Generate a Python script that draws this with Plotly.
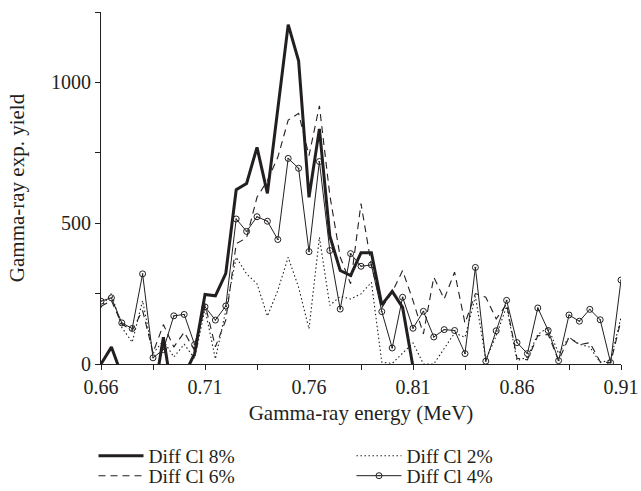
import plotly.graph_objects as go

energy = [0.660, 0.665, 0.670, 0.675, 0.680, 0.685, 0.690, 0.695, 0.700, 0.705,
          0.710, 0.715, 0.720, 0.725, 0.730, 0.735, 0.740, 0.745, 0.750, 0.755,
          0.760, 0.765, 0.770, 0.775, 0.780, 0.785, 0.790, 0.795, 0.800, 0.805,
          0.810, 0.815, 0.820, 0.825, 0.830, 0.835, 0.840, 0.845, 0.850, 0.855,
          0.860, 0.865, 0.870, 0.875, 0.880, 0.885, 0.890, 0.895, 0.900, 0.905,
          0.910]

cl8 = [0, 60, -40, -120, -90, -130, 95, -140, -40, 37,
       247, 242, 322, 619, 641, 769, 606, 900, 1205, 1077,
       592, 835, 455, 332, 314, 395, 395, 210, 258, 201,
       -10, -80, -120, -60, -150, -90, -40, -110, -70, -130,
       -160, -100, -60, -140, -90, -50, -120, -80, -110, -70,
       -100]

cl6 = [205, 225, 142, 119, 190, 40, 140, 60, 113, 48,
       213, 61, 156, 427, 448, 592, 651, 734, 866, 890,
       740, 917, 600, 380, 285, 570, 350, 200, 255, 332,
       225, 107, 308, 231, 326, 145, 250, 237, 160, 213,
       20, 15, 100, 105, 12, 95, 68, 76, 8, 4,
       155]

cl2 = [201, 250, 130, 77, 225, 37, 83, 25, 70, 20,
       195, 18, 190, 379, 320, 285, 170, 261, 379, 272,
       125, 450, 208, 240, 231, 249, 290, 6, 2, 37,
       75, 0, 0, 55, 110, 95, 240, 15, 100, 205,
       12, 24, 105, 130, 37, 95, 70, 60, 5, 15,
       165]

cl4 = [223, 235, 146, 126, 320, 22, 51, 171, 176, 69,
       203, 156, 206, 515, 471, 523, 507, 442, 730, 695,
       399, 719, 403, 195, 392, 347, 352, 186, 57, 237,
       127, 187, 96, 122, 119, 37, 343, 10, 118, 226,
       76, 37, 199, 119, 12, 174, 152, 194, 157, 5,
       298]

ink = "#231f20"
font_family = "Liberation Serif"

fig = go.Figure()
fig.add_trace(go.Scatter(x=energy, y=cl8, mode="lines", name="Diff Cl 8%",
                         line=dict(color=ink, width=3), legend="legend"))
fig.add_trace(go.Scatter(x=energy, y=cl6, mode="lines", name="Diff Cl 6%",
                         line=dict(color=ink, width=1.1, dash="7px,5px"), legend="legend2"))
fig.add_trace(go.Scatter(x=energy, y=cl2, mode="lines", name="Diff Cl 2%",
                         line=dict(color=ink, width=1.1, dash="1.5px,2.5px"), legend="legend3"))
fig.add_trace(go.Scatter(x=energy, y=cl4, mode="lines+markers", name="Diff Cl 4%",
                         line=dict(color=ink, width=1),
                         marker=dict(symbol="circle-open-dot", size=6, color=ink,
                                     line=dict(width=1, color=ink)),
                         legend="legend4"))

legend_common = dict(orientation="v", xanchor="left", yanchor="middle",
                     font=dict(family=font_family, size=19.5, color=ink),
                     bgcolor="rgba(0,0,0,0)", itemwidth=45)

col1, col2 = -0.0144, 0.4817
row1, row2 = -0.2614, -0.3182

fig.update_layout(
    width=641, height=491,
    margin=dict(l=101, r=20, t=12, b=127, autoexpand=False),
    paper_bgcolor="white", plot_bgcolor="white",
    font=dict(family=font_family, size=19, color=ink),
    showlegend=True,
    legend=dict(x=col1, y=row1, **legend_common),
    legend2=dict(x=col1, y=row2, **legend_common),
    legend3=dict(x=col2, y=row1, **legend_common),
    legend4=dict(x=col2, y=row2, **legend_common),
    xaxis=dict(
        range=[0.66, 0.91], tickvals=[0.66, 0.71, 0.76, 0.81, 0.86, 0.91],
        ticktext=["0.66", "0.71", "0.76", "0.81", "0.86", "0.91"],
        automargin=False,
        showgrid=False, zeroline=False, showline=True, linecolor=ink, linewidth=1,
        ticks="outside", ticklen=5, tickcolor=ink, tickwidth=1,
        minor=dict(tickvals=[0.685, 0.735, 0.785, 0.835, 0.885], ticks="outside",
                   ticklen=5, tickcolor=ink, tickwidth=1, showgrid=False),
        tickfont=dict(family=font_family, size=20, color=ink),
        title=dict(text="Gamma-ray energy (MeV)", standoff=8,
                   font=dict(family=font_family, size=21, color=ink)),
    ),
    yaxis=dict(
        range=[0, 1250], tickvals=[0, 500, 1000], ticktext=["0", "500", "1000"],
        automargin=False,
        showgrid=False, zeroline=False, showline=True, linecolor=ink, linewidth=1,
        ticks="outside", ticklen=5, tickcolor=ink, tickwidth=1,
        minor=dict(tickvals=[250, 750, 1250], ticks="outside", ticklen=5,
                   tickcolor=ink, tickwidth=1, showgrid=False),
        tickfont=dict(family=font_family, size=20, color=ink),
        title=dict(text="Gamma-ray exp. yield", standoff=20,
                   font=dict(family=font_family, size=21, color=ink)),
    ),
)

fig.write_html("out.html")
